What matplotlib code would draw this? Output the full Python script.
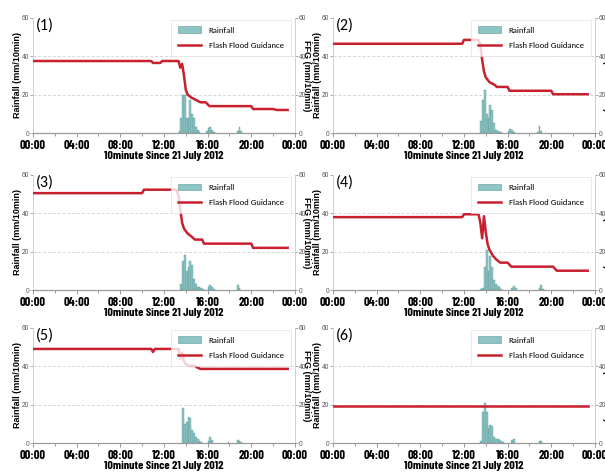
import matplotlib
matplotlib.use("Agg")
import matplotlib.pyplot as plt
from matplotlib.ticker import MultipleLocator, FixedLocator
from matplotlib.patches import Patch
from matplotlib.lines import Line2D

# ---------------- data ----------------
panel_labels = ["(1)", "(2)", "(3)", "(4)", "(5)", "(6)"]
x_tick_labels = ["00:00", "04:00", "08:00", "12:00", "16:00", "20:00", "00:00"]
x_label = "10minute Since 21 July 2012"
left_label = "Rainfall (mm/10min)"
right_label = "FFG (mm/10min)"
legend_labels = ["Rainfall", "Flash Flood Guidance"]

ffg1_t = ["00:00", "10:50", "11:00", "11:40", "11:50", "13:20", "13:30", "13:40", "13:50", "14:00", "14:10",
          "14:30", "14:50", "15:10", "15:20", "15:50", "16:10", "20:00", "20:10", "22:00", "22:20", "23:20"]
ffg1_v = [37.5, 37.5, 36.5, 36.5, 37.5, 37.5, 34, 36, 30, 22.5, 20, 18.5, 17.5, 16.5, 16, 16, 14, 14, 12.5, 12.5, 12, 12]
rain1_t = ["13:20", "13:30", "13:40", "13:50", "14:00", "14:10", "14:20", "14:30", "14:40", "14:50", "15:00",
           "15:10", "15:50", "16:00", "16:10", "16:20", "16:30", "18:40", "18:50", "19:00"]
rain1_v = [1, 8, 20, 20, 8, 8, 17, 10, 8, 3, 1.5, 0.5, 1, 2.5, 3, 1.5, 0.5, 1, 3, 1]

ffg2_t = ["00:00", "11:50", "12:00", "13:20", "13:30", "13:40", "13:50", "14:00", "14:20", "14:40", "14:50",
          "15:00", "16:00", "16:10", "20:00", "20:10", "23:20"]
ffg2_v = [46.5, 46.5, 48.5, 48.5, 46, 38, 32, 29, 26.5, 25.5, 25, 24, 24, 22, 22, 20.2, 20.2]
rain2_t = ["13:30", "13:40", "13:50", "14:00", "14:10", "14:20", "14:30", "14:40", "14:50", "15:00", "15:10",
           "15:20", "16:00", "16:10", "16:20", "16:30", "18:40", "18:50", "19:00"]
rain2_v = [6.5, 17, 22.5, 10, 8, 14.5, 12, 5, 1.5, 1, 0.5, 0.5, 1, 2, 1.5, 0.5, 0.5, 3.5, 1]

ffg3_t = ["00:00", "10:00", "10:10", "13:10", "13:20", "13:30", "13:40", "13:50", "14:10", "14:30", "14:50",
          "15:30", "15:40", "20:00", "20:10", "23:20"]
ffg3_v = [50.5, 50.5, 52.3, 52.3, 49, 42, 35, 32, 29.5, 28, 26.3, 26.3, 24.2, 24.2, 22, 22]
rain3_t = ["13:30", "13:40", "13:50", "14:00", "14:10", "14:20", "14:30", "14:40", "14:50", "15:00", "15:10",
           "15:20", "15:30", "16:00", "16:10", "16:20", "16:30", "18:40", "18:50"]
rain3_v = [3, 15, 18.5, 10, 12, 15, 13, 6, 3, 1.5, 1.5, 1, 0.5, 1.5, 2.5, 1.5, 0.5, 2.5, 1]

ffg4_t = ["00:00", "11:50", "12:00", "13:20", "13:30", "13:40", "13:50", "14:00", "14:10", "14:20", "14:40",
          "15:00", "15:20", "16:00", "16:20", "20:10", "20:30", "23:20"]
ffg4_v = [38, 38, 39.5, 39.5, 35, 27, 38.5, 30, 24, 21, 17.8, 15.7, 14.3, 14.3, 12.2, 12.2, 10.1, 10.1]
rain4_t = ["13:30", "13:40", "13:50", "14:00", "14:10", "14:20", "14:30", "14:40", "14:50", "15:00", "15:10",
           "15:20", "16:20", "16:30", "16:40", "18:50", "19:00", "19:10"]
rain4_v = [0.5, 1, 12, 21, 10, 18, 12, 5, 3, 2, 1.5, 0.5, 1, 2, 1, 1, 2.5, 0.5]

ffg5_t = ["00:00", "10:50", "11:00", "11:10", "13:20", "13:30", "13:40", "13:50", "14:00", "14:20", "14:50",
          "15:00", "15:20", "23:20"]
ffg5_v = [49, 49, 47.4, 49, 49, 44, 47, 42.5, 41, 40.2, 40.2, 39.5, 38.6, 38.6]
rain5_t = ["13:40", "13:50", "14:00", "14:10", "14:20", "14:30", "14:40", "14:50", "15:00", "15:10", "15:20",
           "16:00", "16:10", "16:20", "17:50", "18:40", "18:50", "19:00"]
rain5_v = [18, 10, 11, 13.5, 13, 7, 5, 3, 2, 1, 0.5, 1, 3, 1.5, 0.3, 1.5, 1.2, 0.5]

ffg6_t = ["00:00", "23:20"]
ffg6_v = [19.5, 19.5]
rain6_t = ["13:30", "13:40", "13:50", "14:00", "14:10", "14:20", "14:30", "14:40", "14:50", "15:00", "15:10",
           "15:20", "15:30", "16:20", "16:30", "18:50", "19:00"]
rain6_v = [1, 16, 21, 16, 8, 9.5, 9, 3, 2, 2, 1.5, 1, 0.5, 1.5, 2, 1, 0.8]

panels = [
    (ffg1_t, ffg1_v, rain1_t, rain1_v),
    (ffg2_t, ffg2_v, rain2_t, rain2_v),
    (ffg3_t, ffg3_v, rain3_t, rain3_v),
    (ffg4_t, ffg4_v, rain4_t, rain4_v),
    (ffg5_t, ffg5_v, rain5_t, rain5_v),
    (ffg6_t, ffg6_v, rain6_t, rain6_v),
]


def to_hours(s):
    h, m = s.split(":")
    return int(h) + int(m) / 60.0


# ---------------- style ----------------
RED = "#c8202f"
BAR = "#8ec4c4"
BAR_EDGE = "#5e9c9c"
NARROW = ["Barlow Condensed", "DejaVu Sans"]
SANS = ["Liberation Sans", "DejaVu Sans"]
CAL = ["Carlito", "DejaVu Sans"]

fig = plt.figure(figsize=(6.05, 4.74), dpi=100)
lefts = [0.0545, 0.5504]
bottoms = [0.7194, 0.388, 0.0654]
W, H = 0.433, 0.243

for i, (ft, fv, rt, rv) in enumerate(panels):
    row, col = divmod(i, 2)
    ax = fig.add_axes([lefts[col], bottoms[row], W, H])
    ax2 = ax.twinx()

    ax.bar([to_hours(t) for t in rt], rv, width=1 / 6, align="edge",
           color=BAR, edgecolor=BAR_EDGE, linewidth=0.3, zorder=3)
    ax2.plot([to_hours(t) for t in ft], fv, color=RED, lw=1.8, zorder=4)

    for a in (ax, ax2):
        a.set_ylim(0, 60)
        a.set_xlim(0, 24)
        a.yaxis.set_major_locator(FixedLocator([0, 20, 40, 60]))
        a.spines["top"].set_visible(False)
        a.spines["left"].set_color("#d0d0d0")
        a.spines["right"].set_color("#d0d0d0")
        a.spines["bottom"].set_color("#9a9a9a")
        a.spines["left"].set_linewidth(0.6)
        a.spines["right"].set_linewidth(0.6)
        a.spines["bottom"].set_linewidth(0.8)

    for yv in (20, 40):
        ax.axhline(yv, color="#d6d6d6", lw=0.7, ls=(0, (3, 2)), zorder=1)

    ax.set_xticks(range(0, 25, 4))
    ax.set_xticklabels(x_tick_labels, family=NARROW, fontweight="bold", fontsize=9)
    ax.xaxis.set_minor_locator(MultipleLocator(2))
    ax.tick_params(axis="x", which="major", length=3, width=0.6, color="#8a8a8a", pad=2)
    ax.tick_params(axis="x", which="minor", length=2, width=0.6, color="#8a8a8a")
    ax.tick_params(axis="y", length=2, width=0.5, color="#8a8a8a", labelsize=4.8,
                   labelcolor="#555555", pad=0.8)
    ax2.tick_params(axis="y", length=2, width=0.5, color="#8a8a8a", labelsize=4.8,
                    labelcolor="#555555", pad=0.5)
    for lab in ax.get_yticklabels() + ax2.get_yticklabels():
        lab.set_family(SANS)

    ax.set_xlabel(x_label, family=NARROW, fontweight="bold", fontsize=8.7, labelpad=0.3)
    ax.set_ylabel(left_label, family=SANS, fontweight="bold", fontsize=6.5)
    ax.yaxis.set_label_coords(-0.042, 0.5)
    ax2.set_ylabel(right_label, family=SANS, fontweight="bold", fontsize=6.5, rotation=270)
    ax2.yaxis.set_label_coords(1.061, 0.5)

    ax.text(0.01, 0.995, panel_labels[i], transform=ax.transAxes, ha="left", va="top",
            fontsize=11.5, family=CAL, zorder=6)

    handles = [Patch(facecolor=BAR, edgecolor=BAR_EDGE, linewidth=0.4),
               Line2D([0], [0], color=RED, lw=1.8)]
    leg = ax2.legend(handles, legend_labels, loc="upper right", bbox_to_anchor=(0.99, 1.0),
                     prop={"family": CAL, "size": 6.2}, frameon=True, fancybox=False,
                     handlelength=2.7, handleheight=0.8, labelspacing=0.9, borderpad=0.8,
                     handletextpad=0.9, borderaxespad=0.2)
    leg.get_frame().set_edgecolor("#e0e0e0")
    leg.get_frame().set_linewidth(0.6)
    ax2.set_zorder(ax.get_zorder() + 1)
    ax2.patch.set_visible(False)

fig.savefig("out.png", dpi=100)
